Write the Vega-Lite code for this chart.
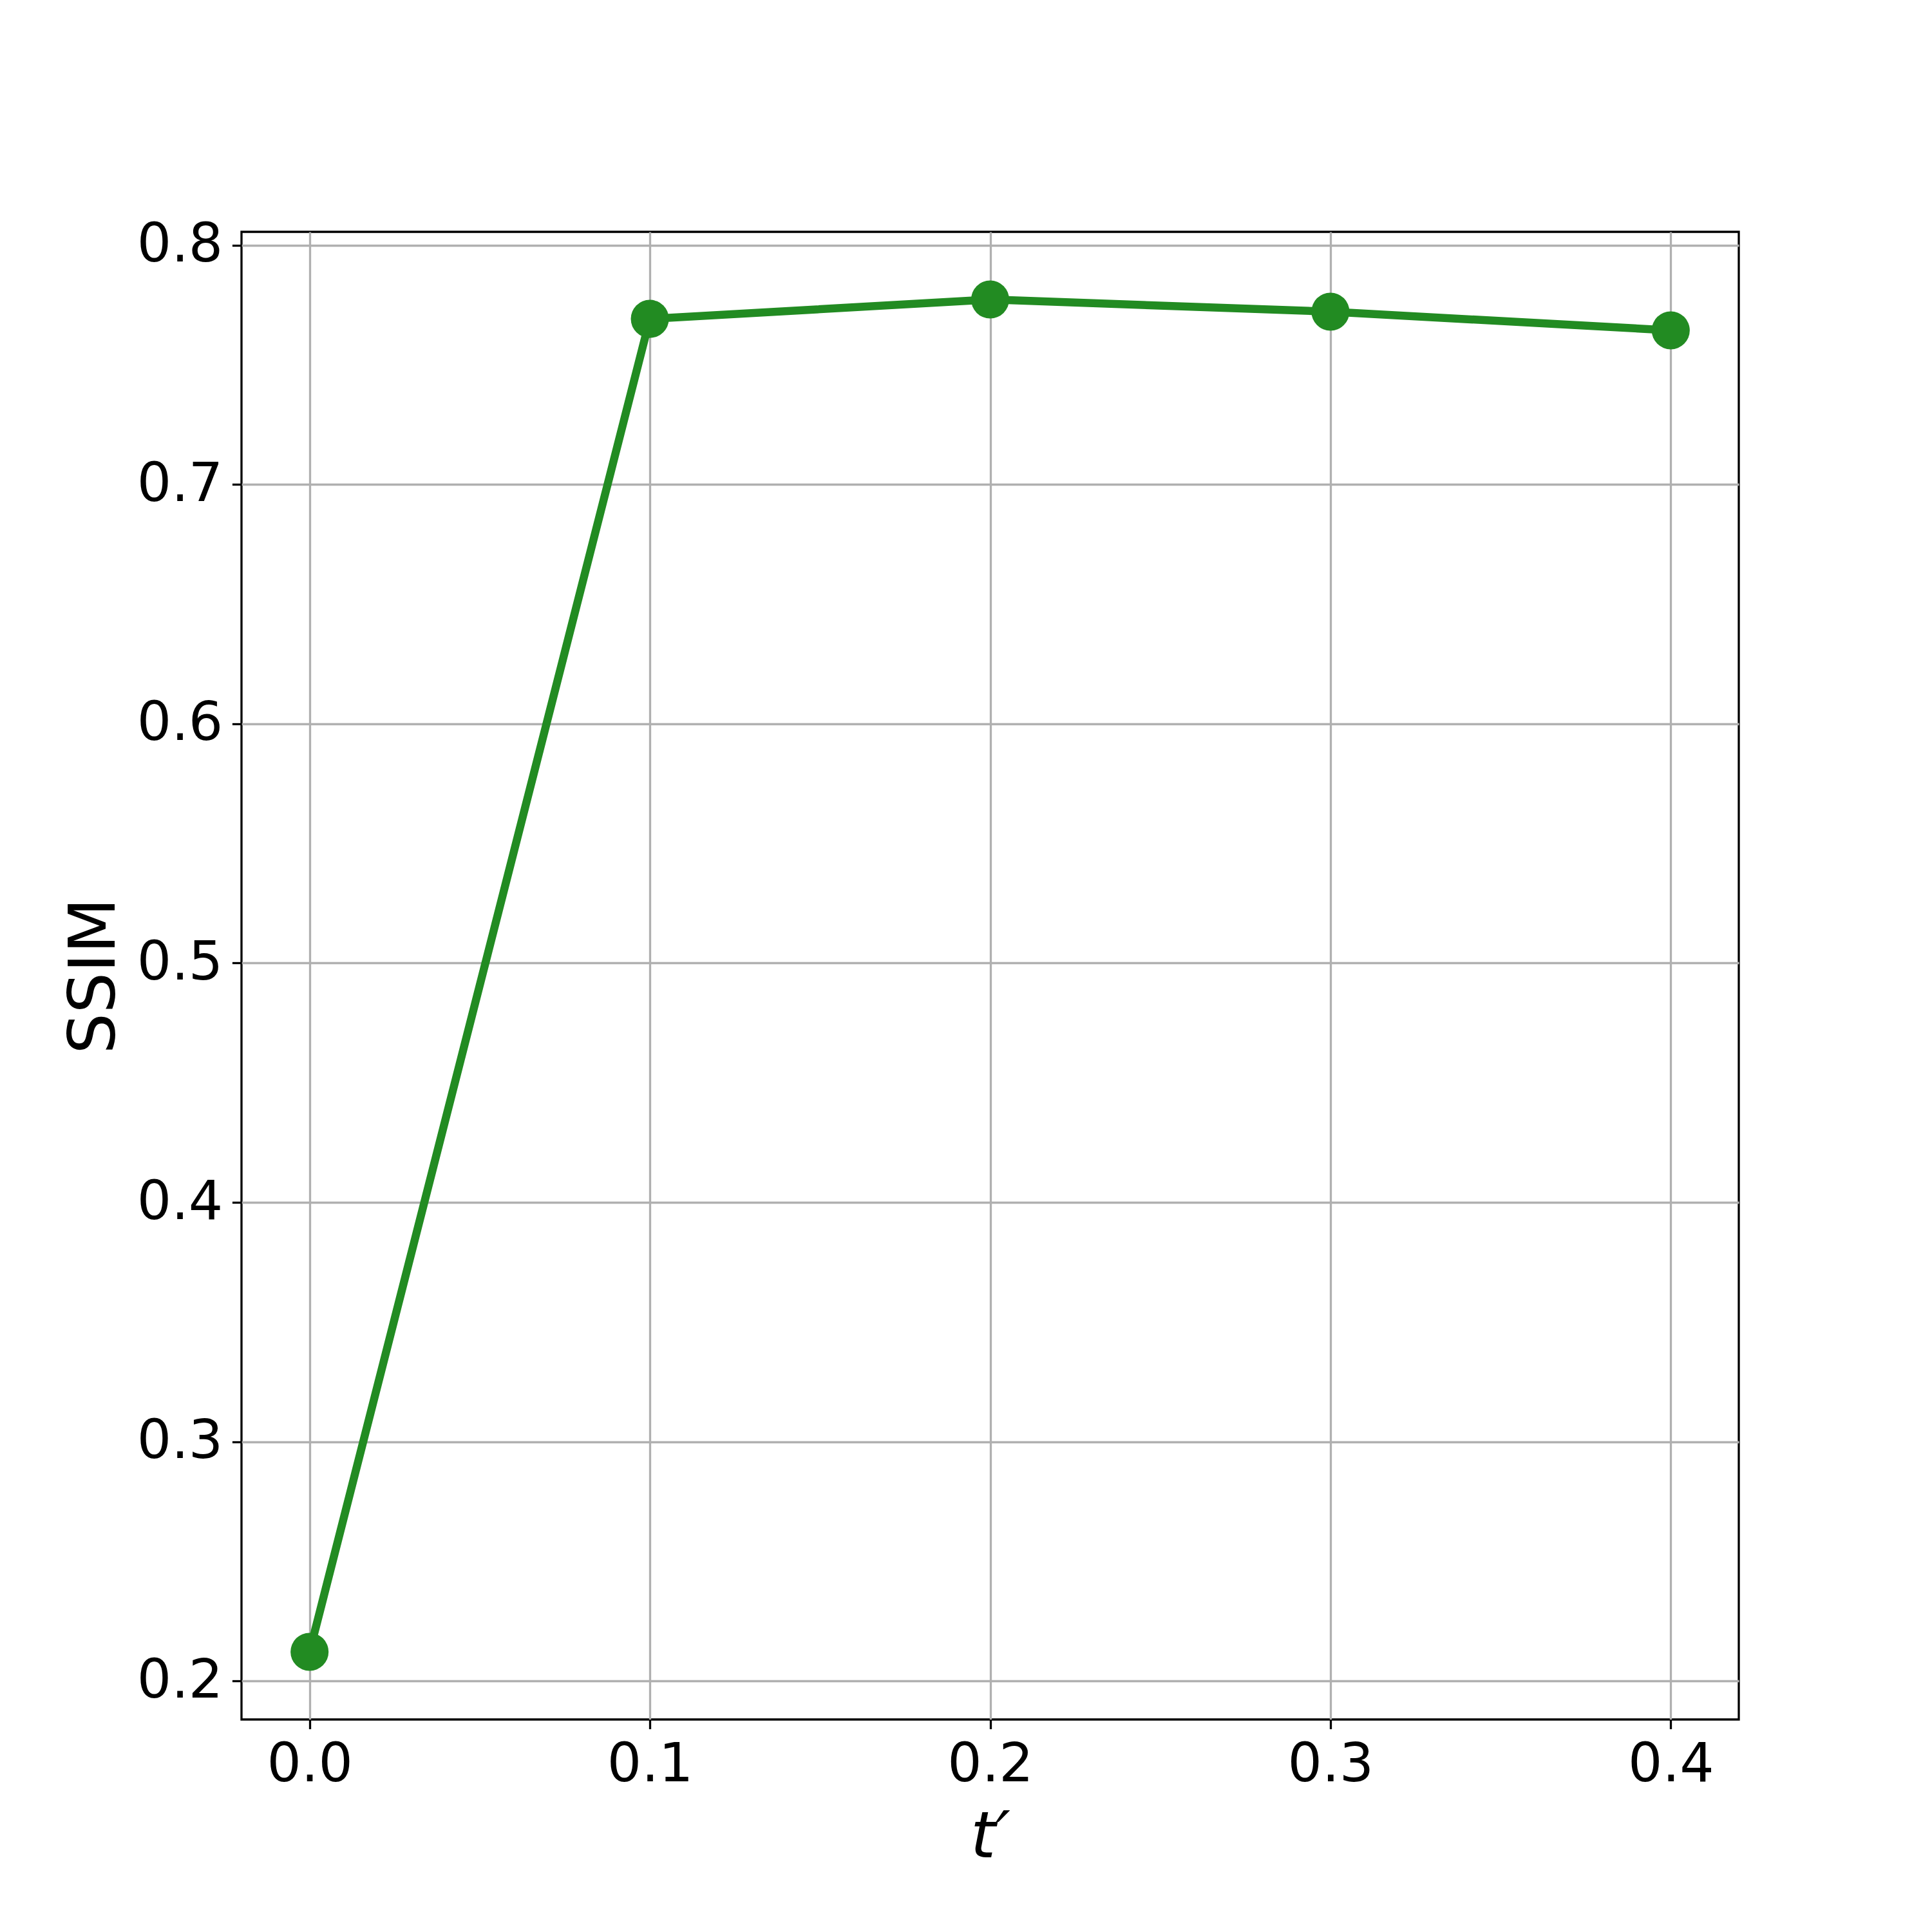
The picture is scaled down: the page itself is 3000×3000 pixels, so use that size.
{
  "$schema": "https://vega.github.io/schema/vega-lite/v6.json",
  "autosize": {"type": "none"},
  "padding": {"left": 375, "top": 360, "right": 300, "bottom": 330},
  "width": 2325,
  "height": 2310,
  "background": "white",
  "config": {
    "view": {"stroke": "black", "strokeWidth": 3.3},
    "axis": {
      "labelFont": "DejaVu Sans",
      "titleFont": "DejaVu Sans",
      "labelFontSize": 84,
      "titleFontSize": 100,
      "titleFontWeight": "normal",
      "labelColor": "black",
      "titleColor": "black",
      "domain": false,
      "ticks": true,
      "tickColor": "black",
      "tickWidth": 3.3,
      "tickSize": 14.6,
      "labelPadding": 14.6,
      "grid": true,
      "gridColor": "#b0b0b0",
      "gridWidth": 3.3
    }
  },
  "data": {
    "values": [
      {"t": 0.0, "ssim": 0.2122},
      {"t": 0.1, "ssim": 0.7692},
      {"t": 0.2, "ssim": 0.7773},
      {"t": 0.3, "ssim": 0.7722},
      {"t": 0.4, "ssim": 0.7644}
    ]
  },
  "encoding": {
    "x": {
      "field": "t",
      "type": "quantitative",
      "scale": {"domain": [-0.02, 0.42], "nice": false, "zero": false},
      "axis": {
        "title": "t′",
        "titleFontStyle": "italic",
        "values": [0, 0.1, 0.2, 0.3, 0.4],
        "format": ".1f",
        "labelFlush": false,
        "titlePadding": 22
      }
    },
    "y": {
      "field": "ssim",
      "type": "quantitative",
      "scale": {"domain": [0.18394, 0.80556], "nice": false, "zero": false},
      "axis": {
        "title": "SSIM",
        "values": [0.2, 0.3, 0.4, 0.5, 0.6, 0.7, 0.8],
        "format": ".1f",
        "labelFlush": false,
        "titlePadding": 14
      }
    }
  },
  "layer": [
    {"mark": {"type": "line", "color": "#228B22", "strokeWidth": 12.5}},
    {"mark": {"type": "point", "shape": "circle", "filled": true, "opacity": 1, "color": "#228B22", "size": 3490}}
  ]
}
